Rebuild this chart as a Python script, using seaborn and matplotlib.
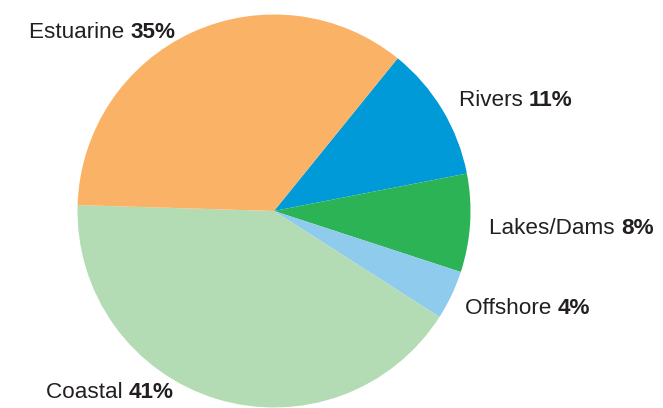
import matplotlib
matplotlib.use("Agg")
import matplotlib.pyplot as plt
import seaborn as sns

# Data (clockwise from the Rivers slice)
categories = ["Rivers", "Lakes/Dams", "Offshore", "Coastal", "Estuarine"]
values = [11, 8, 4, 41, 35]
colors = ["#009ad9", "#2cb356", "#8ecbec", "#b3dcb4", "#fab366"]

# Label anchor positions (left edge x, centre y) in pixel coords, y from top
label_pos = [(459, 101), (489, 229), (465, 308), (46, 393), (29, 32)]

sns.set_theme(style="white")
plt.rcParams["font.family"] = ["Liberation Sans", "DejaVu Sans"]

W, H = 663, 408
fig = plt.figure(figsize=(W / 100, H / 100), dpi=100)
ax = fig.add_axes([0, 0, 1, 1])

ax.pie(values, colors=colors, startangle=51, counterclock=False,
       center=(274, H - 211), radius=196.5,
       wedgeprops=dict(linewidth=0), frame=True)
ax.set_xlim(0, W)
ax.set_ylim(0, H)
ax.set_aspect("equal")
ax.axis("off")

fig.canvas.draw()
renderer = fig.canvas.get_renderer()
fs = 16.2
for cat, val, (x, y) in zip(categories, values, label_pos):
    t = ax.text(x, H - y, cat + " ", fontsize=fs, color="#231f20",
                ha="left", va="center")
    bb = t.get_window_extent(renderer=renderer)
    x2 = ax.transData.inverted().transform((bb.x1, bb.y0))[0]
    ax.text(x2, H - y, f"{val}%", fontsize=fs, fontweight="bold",
            color="#231f20", ha="left", va="center")

fig.savefig("out.png", dpi=100, facecolor="white")
